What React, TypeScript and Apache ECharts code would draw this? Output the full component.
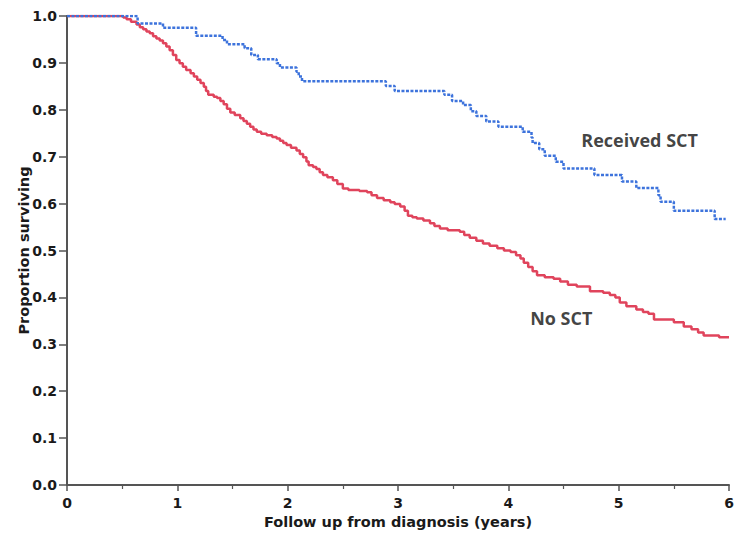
import React, { useEffect, useRef } from "react";
import * as echarts from "echarts";

const sctTimes = [0, 0.64, 0.87, 1.17, 1.41, 1.45, 1.61, 1.67, 1.73, 1.9, 1.93, 2.08, 2.1, 2.13, 2.89, 2.97, 3.42, 3.49, 3.59, 3.66, 3.71, 3.8, 3.91, 4.13, 4.21, 4.22, 4.28, 4.33, 4.43, 4.5, 4.78, 5.03, 5.16, 5.36, 5.38, 5.5, 5.87, 5.97];
const sctSurvival = [1, 0.984, 0.975, 0.958, 0.949, 0.94, 0.931, 0.917, 0.908, 0.899, 0.89, 0.881, 0.871, 0.861, 0.851, 0.84, 0.832, 0.819, 0.81, 0.797, 0.787, 0.775, 0.764, 0.753, 0.741, 0.729, 0.716, 0.702, 0.689, 0.675, 0.661, 0.647, 0.633, 0.618, 0.604, 0.585, 0.567, 0.567];

const noSctTimes = [0, 0.51, 0.54, 0.58, 0.63, 0.66, 0.69, 0.72, 0.75, 0.78, 0.81, 0.84, 0.87, 0.9, 0.93, 0.96, 0.99, 1.02, 1.05, 1.08, 1.12, 1.15, 1.18, 1.21, 1.24, 1.26, 1.28, 1.33, 1.36, 1.39, 1.42, 1.45, 1.48, 1.52, 1.57, 1.6, 1.63, 1.66, 1.69, 1.72, 1.76, 1.81, 1.86, 1.9, 1.93, 1.96, 1.99, 2.03, 2.08, 2.11, 2.14, 2.17, 2.19, 2.23, 2.26, 2.29, 2.32, 2.36, 2.41, 2.45, 2.5, 2.55, 2.65, 2.72, 2.76, 2.81, 2.87, 2.93, 2.97, 3.02, 3.06, 3.09, 3.13, 3.17, 3.23, 3.29, 3.33, 3.38, 3.45, 3.56, 3.6, 3.65, 3.71, 3.77, 3.83, 3.9, 3.96, 4.02, 4.07, 4.11, 4.14, 4.18, 4.22, 4.26, 4.33, 4.41, 4.47, 4.54, 4.62, 4.74, 4.86, 4.92, 4.97, 5.01, 5.07, 5.16, 5.22, 5.27, 5.32, 5.5, 5.59, 5.66, 5.72, 5.77, 5.91, 6.0];
const noSctSurvival = [1, 0.997, 0.993, 0.988, 0.982, 0.976, 0.972, 0.967, 0.963, 0.957, 0.952, 0.948, 0.942, 0.935, 0.927, 0.917, 0.906, 0.899, 0.892, 0.885, 0.878, 0.871, 0.864, 0.857, 0.849, 0.84, 0.832, 0.828, 0.825, 0.819, 0.812, 0.802, 0.794, 0.789, 0.782, 0.776, 0.77, 0.764, 0.758, 0.753, 0.749, 0.746, 0.742, 0.739, 0.734, 0.729, 0.725, 0.719, 0.713, 0.706, 0.699, 0.69, 0.682, 0.678, 0.674, 0.667, 0.661, 0.656, 0.65, 0.642, 0.632, 0.629, 0.627, 0.624, 0.618, 0.612, 0.607, 0.603, 0.599, 0.594, 0.585, 0.574, 0.571, 0.568, 0.564, 0.558, 0.552, 0.547, 0.543, 0.54, 0.533, 0.527, 0.521, 0.515, 0.51, 0.505, 0.5, 0.497, 0.49, 0.483, 0.474, 0.465, 0.456, 0.447, 0.443, 0.44, 0.434, 0.427, 0.423, 0.413, 0.41, 0.405, 0.4, 0.389, 0.381, 0.374, 0.369, 0.365, 0.353, 0.347, 0.338, 0.332, 0.325, 0.319, 0.315, 0.314];

const seriesNames = ["Received SCT", "No SCT"];
const labelAnchors = [
  [5.19, 0.736],
  [4.48, 0.356],
];

const xTitle = "Follow up from diagnosis (years)";
const yTitle = "Proportion surviving";

const AXIS_FONT = "'DejaVu Sans', sans-serif";
const LABEL_FONT = "'Open Sans', 'DejaVu Sans', sans-serif";

export default function App() {
  const ref = useRef<HTMLDivElement>(null);
  useEffect(() => {
    if (!ref.current) return;
    const chart = echarts.init(ref.current, null, { renderer: "svg" });
    const zip = (a: number[], b: number[]) => a.map((t, i) => [t, b[i]]);
    const axisLabelStyle = {
      color: "#1a1a1a",
      fontFamily: AXIS_FONT,
      fontSize: 14,
      fontWeight: "bold",
    };
    const titleStyle = {
      color: "#1a1a1a",
      fontFamily: AXIS_FONT,
      fontSize: 14.5,
      fontWeight: "bold",
    };
    chart.setOption({
      animation: false,
      backgroundColor: "#ffffff",
      grid: { left: 67, right: 10, top: 16, bottom: 52 },
      xAxis: {
        type: "value",
        min: 0,
        max: 6,
        interval: 1,
        name: xTitle,
        nameLocation: "middle",
        nameGap: 29,
        nameMoveOverlap: false,
        nameTextStyle: titleStyle,
        axisLine: { show: true, lineStyle: { color: "#555", width: 2 } },
        axisTick: { show: true, length: 6, lineStyle: { color: "#555", width: 1.5 } },
        minorTick: { show: true, splitNumber: 2, length: 4, lineStyle: { color: "#555", width: 1.2 } },
        axisLabel: { ...axisLabelStyle, margin: 11 },
        splitLine: { show: false },
      },
      yAxis: {
        type: "value",
        min: 0,
        max: 1,
        interval: 0.1,
        name: yTitle,
        nameLocation: "middle",
        nameGap: 36,
        nameMoveOverlap: false,
        nameTextStyle: titleStyle,
        axisLine: { show: true, lineStyle: { color: "#555", width: 2 } },
        axisTick: { show: true, length: 8, lineStyle: { color: "#555", width: 1.5 } },
        axisLabel: {
          ...axisLabelStyle,
          margin: 10,
          formatter: (v: number) => v.toFixed(1),
        },
        splitLine: { show: false },
      },
      series: [
        {
          name: seriesNames[1],
          type: "line",
          step: "end",
          data: zip(noSctTimes, noSctSurvival),
          showSymbol: false,
          lineStyle: { color: "#e0445c", width: 2.5 },
          z: 2,
        },
        {
          name: seriesNames[0],
          type: "line",
          step: "end",
          data: zip(sctTimes, sctSurvival),
          showSymbol: false,
          lineStyle: { color: "#3d73dc", width: 2.5, type: [3, 1.5] },
          z: 3,
        },
        {
          type: "scatter",
          symbolSize: 0,
          silent: true,
          data: labelAnchors.map((p, i) => ({ value: p, name: seriesNames[i] })),
          label: {
            show: true,
            position: "inside",
            formatter: (p: any) => p.name,
            color: "#111",
            fontFamily: LABEL_FONT,
            fontSize: 18,
            fontWeight: "bold",
          },
        },
      ],
    });
    return () => chart.dispose();
  }, []);
  return <div ref={ref} style={{ width: 739, height: 537, position: "absolute", left: 0, top: 0 }} />;
}
